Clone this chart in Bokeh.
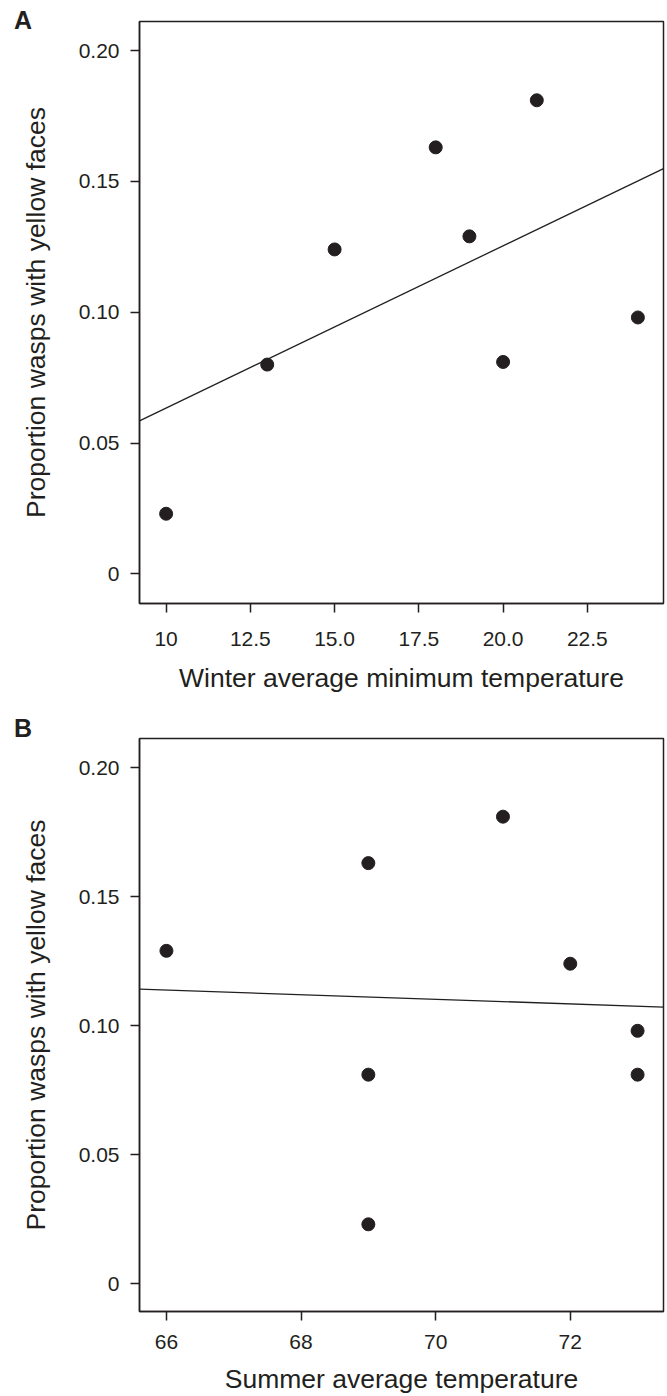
import numpy as np
from bokeh.plotting import figure
from bokeh.layouts import column, row
from bokeh.models import Range1d, FixedTicker, Div
from bokeh.embed import file_html
from bokeh.resources import INLINE

# ---- data ----
winter_temp = [10, 13, 15, 18, 19, 20, 21, 24]
winter_prop = [0.023, 0.080, 0.124, 0.163, 0.129, 0.081, 0.181, 0.098]

summer_temp = [66, 69, 69, 69, 71, 72, 73, 73]
summer_prop = [0.129, 0.163, 0.081, 0.023, 0.181, 0.124, 0.098, 0.081]

y_ticks = [0, 0.05, 0.10, 0.15, 0.20]
y_tick_labels = ["0", "0.05", "0.10", "0.15", "0.20"]
xa_ticks = [10, 12.5, 15, 17.5, 20, 22.5]
xa_tick_labels = ["10", "12.5", "15.0", "17.5", "20.0", "22.5"]
xb_ticks = [66, 68, 70, 72]
xb_tick_labels = ["66", "68", "70", "72"]

y_label = "Proportion wasps with yellow faces"
xa_label = "Winter average minimum temperature"
xb_label = "Summer average temperature"

INK = "#231f20"
FONT = "Liberation Sans"
LETTER_W = 2


def make_panel(xs, ys, xr, yr, xticks, xlabels, xtitle, height,
               top, bottom, x_label_standoff, x_title_standoff):
    p = figure(width=665 - LETTER_W, height=height, output_backend="svg",
               toolbar_location=None, x_range=Range1d(*xr), y_range=Range1d(*yr),
               min_border_left=139 - LETTER_W, min_border_right=2,
               min_border_top=top, min_border_bottom=bottom)
    p.background_fill_color = "white"
    p.border_fill_alpha = 0
    p.outline_line_color = INK
    p.outline_line_width = 1.5
    p.xgrid.visible = False
    p.ygrid.visible = False

    for ax in (p.xaxis[0], p.yaxis[0]):
        ax.axis_line_color = INK
        ax.axis_line_width = 1.5
        ax.major_tick_line_color = INK
        ax.major_tick_line_width = 1.5
        ax.major_tick_in = 0
        ax.major_tick_out = 9
        ax.minor_tick_line_color = None
        ax.major_label_text_font = FONT
        ax.major_label_text_font_size = "21px"
        ax.major_label_text_color = INK
        ax.axis_label_text_font = FONT
        ax.axis_label_text_font_size = "26.5px"
        ax.axis_label_text_font_style = "normal"
        ax.axis_label_text_color = INK

    p.xaxis.ticker = FixedTicker(ticks=xticks)
    p.xaxis.major_label_overrides = dict(zip(xticks, xlabels))
    p.xaxis.axis_label = xtitle
    p.xaxis.major_label_standoff = x_label_standoff
    p.xaxis.axis_label_standoff = x_title_standoff

    p.yaxis.ticker = FixedTicker(ticks=y_ticks)
    p.yaxis.major_label_overrides = dict(zip(y_ticks, y_tick_labels))
    p.yaxis.axis_label = y_label
    p.yaxis.major_label_standoff = 11
    p.yaxis.axis_label_standoff = 25

    # regression line
    slope, intercept = np.polyfit(xs, ys, 1)
    lx = np.array(xr)
    p.line(lx, slope * lx + intercept, line_color=INK, line_width=1.3)

    p.scatter(xs, ys, size=13, fill_color=INK, line_color=INK)
    return p


def letter(text, line_h):
    html = ('<div style="padding-left:14px;font-family:\'Liberation Sans\';'
            'font-weight:bold;font-size:25px;line-height:%dpx;color:%s;'
            'margin:0;white-space:nowrap;overflow:visible">%s</div>'
            % (line_h, INK, text))
    return Div(text=html, width=LETTER_W, height=line_h, margin=0,
               styles={"overflow": "visible", "z-index": "1"})


pa = make_panel(winter_temp, winter_prop, (9.21, 24.76), (-0.0113, 0.2111),
                xa_ticks, xa_tick_labels, xa_label, 700, 21, 97, 19, 14)
pb = make_panel(summer_temp, summer_prop, (65.6, 73.385), (-0.0108, 0.2113),
                xb_ticks, xb_tick_labels, xb_label, 696, 38, 77, 14, 12)

layout = column(row(letter("A", 40), pa, spacing=0),
                row(letter("B", 56), pb, spacing=0), spacing=0)
open("out.html", "w").write(file_html(layout, INLINE))
